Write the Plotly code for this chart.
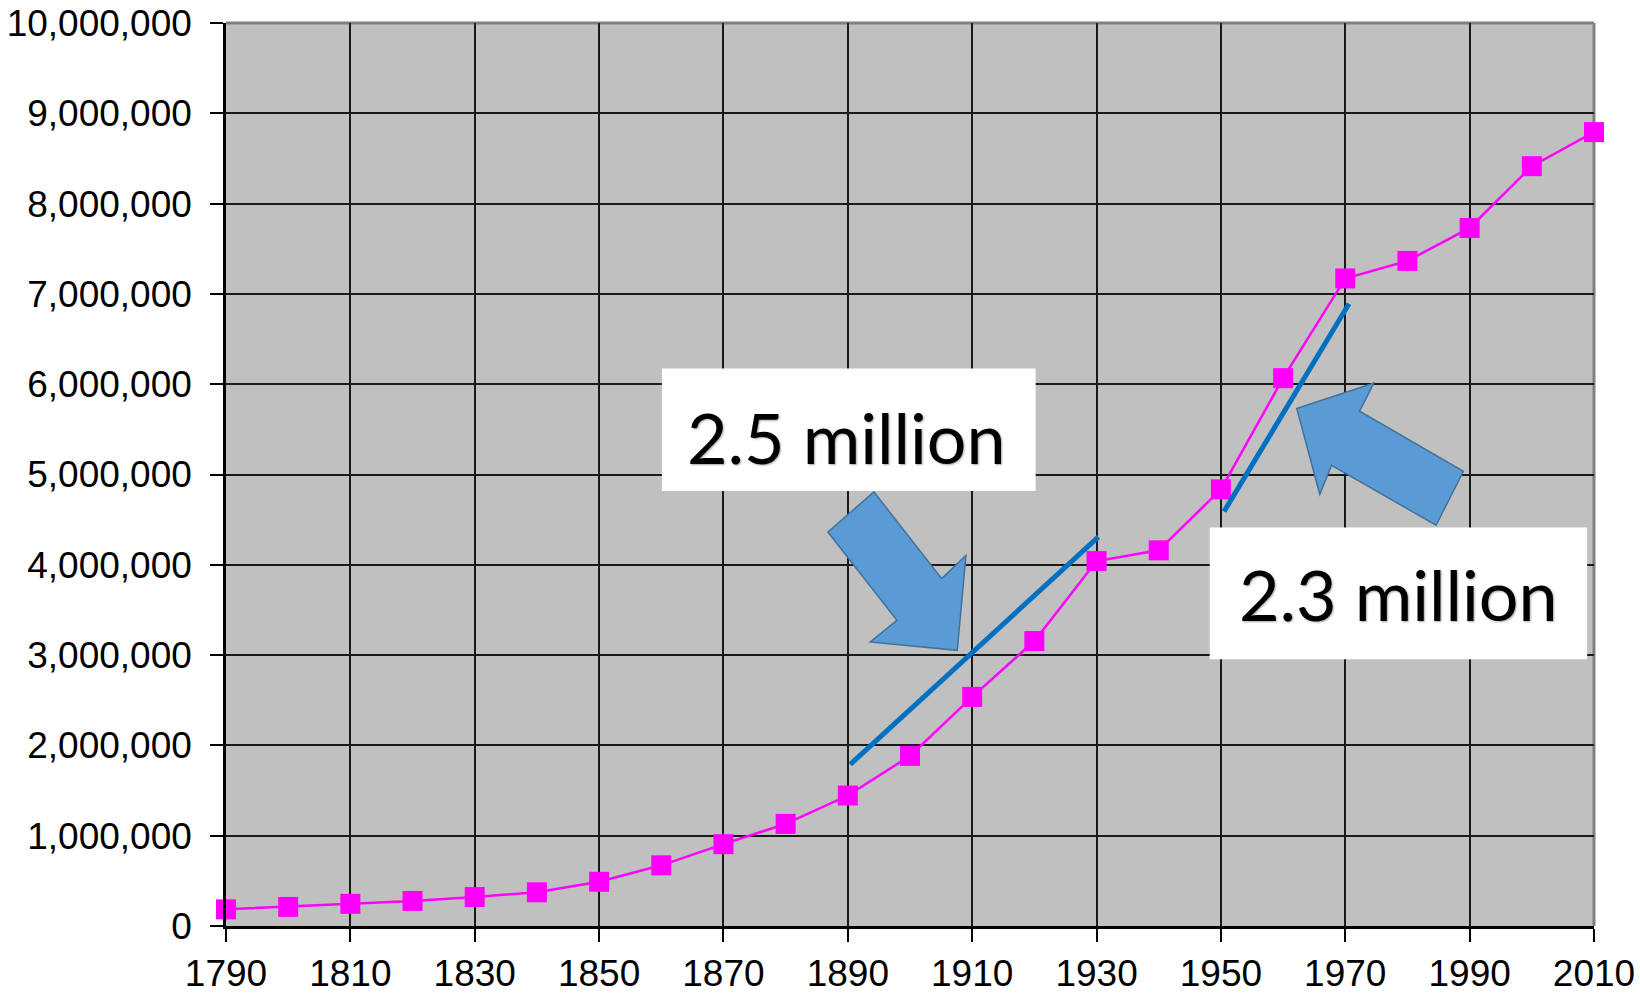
import plotly.graph_objects as go

# Decennial census population
years = [1790, 1800, 1810, 1820, 1830, 1840, 1850, 1860, 1870, 1880, 1890, 1900,
         1910, 1920, 1930, 1940, 1950, 1960, 1970, 1980, 1990, 2000, 2010]
population = [184139, 211149, 245562, 277575, 320823, 373306, 489555, 672035,
              906096, 1131116, 1444933, 1883669, 2537167, 3155900, 4041334,
              4160165, 4835329, 6066782, 7171112, 7365011, 7730188, 8414350,
              8791894]

# Growth guide lines (start/end year, start/end population)
guide1_years = [1890.4, 1930.3]
guide1_values = [1790000, 4310000]
guide2_years = [1950.5, 1970.6]
guide2_values = [4590000, 6890000]

# Callout texts
callout_texts = ["2.5 million", "2.3 million"]

# Callout boxes: x0, x1 (years), y0, y1 (population)
callout_boxes = [(1860.1, 1920.2, 4818000, 6174000),
                 (1948.2, 2008.9, 2953000, 4412000)]
callout_text_pos = [(1889.8, 5410000), (1978.6, 3680000)]

# Block arrows pointing at the guide lines (outline vertices in data units)
arrow1_x = [1886.8, 1894.2, 1905.1, 1909.0, 1907.6, 1893.6, 1897.9]
arrow1_y = [4363000, 4807000, 3847000, 4105000, 3053000, 3145000, 3385000]
arrow2_x = [1962.2, 1974.6, 1972.3, 1989.0, 1984.6, 1967.8, 1965.9]
arrow2_y = [5731000, 6014000, 5701000, 5036000, 4438000, 5102000, 4781000]

MAGENTA = "#FF00FF"
GUIDE_BLUE = "#0070C0"
ARROW_FILL = "#5B9BD5"
ARROW_EDGE = "#41719C"
FRAME_GREY = "#808080"
TICK_FONT = dict(family="Liberation Sans, Arial, sans-serif", size=37, color="#000000")

fig = go.Figure()

fig.add_trace(go.Scatter(
    x=years, y=population, mode="lines+markers",
    line=dict(color=MAGENTA, width=2.5),
    marker=dict(symbol="square", size=20, color=MAGENTA, line=dict(width=0)),
    cliponaxis=False, hoverinfo="x+y", showlegend=False,
))

for gx, gy in ((guide1_years, guide1_values), (guide2_years, guide2_values)):
    fig.add_trace(go.Scatter(
        x=gx, y=gy, mode="lines",
        line=dict(color=GUIDE_BLUE, width=5),
        cliponaxis=False, hoverinfo="skip", showlegend=False,
    ))


def poly_path(xs, ys):
    pts = [f"{x},{y}" for x, y in zip(xs, ys)]
    return "M " + " L ".join(pts) + " Z"


shapes = []
# grey top and right edges of the plotting area
shapes.append(dict(type="line", xref="paper", yref="paper", x0=0, x1=1, y0=1, y1=1,
                   line=dict(color=FRAME_GREY, width=3), layer="between"))
shapes.append(dict(type="line", xref="paper", yref="paper", x0=1, x1=1, y0=0, y1=1,
                   line=dict(color=FRAME_GREY, width=3), layer="between"))
for (x0, x1, y0, y1) in callout_boxes:
    shapes.append(dict(type="rect", xref="x", yref="y", x0=x0, x1=x1, y0=y0, y1=y1,
                       fillcolor="#FFFFFF", line=dict(width=0), layer="above"))
for ax_, ay_ in ((arrow1_x, arrow1_y), (arrow2_x, arrow2_y)):
    shapes.append(dict(type="path", xref="x", yref="y", path=poly_path(ax_, ay_),
                       fillcolor=ARROW_FILL, line=dict(color=ARROW_EDGE, width=1.5),
                       layer="above"))

annotations = []
for text, (tx, ty) in zip(callout_texts, callout_text_pos):
    annotations.append(dict(
        x=tx, y=ty, xref="x", yref="y", text=text, showarrow=False,
        xanchor="center", yanchor="middle",
        font=dict(family="Lato, Carlito, Open Sans, sans-serif", size=70,
                  color="#000000", shadow="1px 1px 2px rgba(0,0,0,0.35)"),
    ))

fig.update_layout(
    width=1640, height=996, autosize=False,
    margin=dict(l=226, r=46, t=23, b=70, autoexpand=False),
    paper_bgcolor="#FFFFFF", plot_bgcolor="#C0C0C0",
    shapes=shapes, annotations=annotations,
    showlegend=False,
)

fig.update_xaxes(
    range=[1790, 2010], tick0=1790, dtick=20, automargin=False,
    showgrid=True, gridcolor="#1A1A1A", gridwidth=1.5,
    showline=True, linecolor="#000000", linewidth=2.5,
    ticks="outside", ticklen=13, tickwidth=2, tickcolor="#000000",
    tickfont=TICK_FONT, ticklabelstandoff=0, ticklabeloverflow="allow",
    zeroline=False,
)
fig.update_yaxes(
    range=[0, 10000000], tick0=0, dtick=1000000, tickformat=",d", automargin=False,
    showgrid=True, gridcolor="#1A1A1A", gridwidth=1.5,
    showline=True, linecolor="#000000", linewidth=2.5,
    ticks="outside", ticklen=13, tickwidth=2, tickcolor="#000000",
    tickfont=TICK_FONT, ticklabelstandoff=11, ticklabeloverflow="allow",
    zeroline=False,
)

fig.write_html("out.html", config={"displayModeBar": False})
